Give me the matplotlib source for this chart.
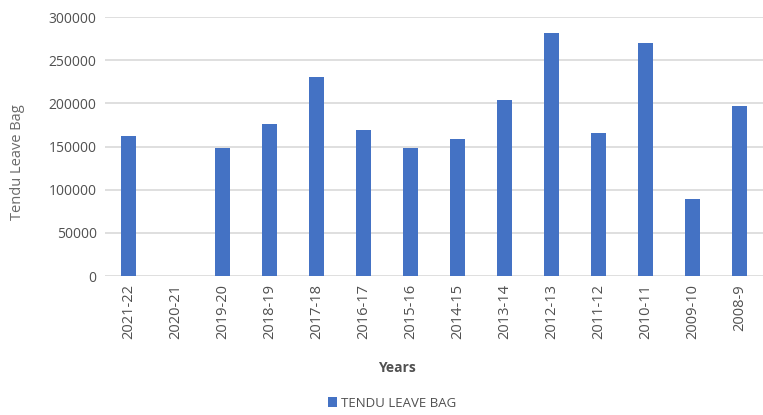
import matplotlib
matplotlib.use("Agg")
import matplotlib.pyplot as plt
import numpy as np

years = ["2021-22", "2020-21", "2019-20", "2018-19", "2017-18", "2016-17", "2015-16",
         "2014-15", "2013-14", "2012-13", "2011-12", "2010-11", "2009-10", "2008-9"]
bags = [162000, 0, 148000, 176000, 230500, 169000, 148000,
        158500, 204000, 281000, 166000, 269500, 89000, 197000]
yticks = [0, 50000, 100000, 150000, 200000, 250000, 300000]

plt.rcParams['font.family'] = ['Open Sans', 'DejaVu Sans']
gray = '#505050'

fig = plt.figure(figsize=(7.63, 4.15), dpi=100)
ax = fig.add_axes([105/763, 1 - 276/415, 658/763, 259/415])
x = np.arange(len(years))
ax.bar(x, bags, width=0.32, color='#4472C4', label='TENDU LEAVE BAG', zorder=3)
ax.set_xlim(-0.5, len(years) - 0.5)
ax.set_ylim(0, 300000)
ax.set_yticks(yticks)
ax.set_yticklabels([str(v) for v in yticks], color=gray, fontsize=10)
ax.set_xticks(x)
ax.set_xticklabels(years, rotation=90, color=gray, fontsize=10.5)
ax.tick_params(length=0, pad=6)
ax.grid(axis='y', color='#d9d9d9', linewidth=1.2, zorder=0)
for s in ax.spines.values():
    s.set_visible(False)
fig.text(18/763, 1 - 162/415, 'Tendu Leave Bag', rotation=90, ha='center', va='center',
         color='#6a6a6a', fontsize=10.5)
fig.text(397/763, 1 - 368/415, 'Years', ha='center', va='center', color=gray,
         fontsize=10, fontweight='bold')
fig.legend(loc='center', bbox_to_anchor=(392/763, 1 - 403/415), frameon=False,
           fontsize=9.5, labelcolor=gray, handlelength=0.7, handleheight=0.7,
           handletextpad=0.3)
fig.savefig('out.png', dpi=100)
